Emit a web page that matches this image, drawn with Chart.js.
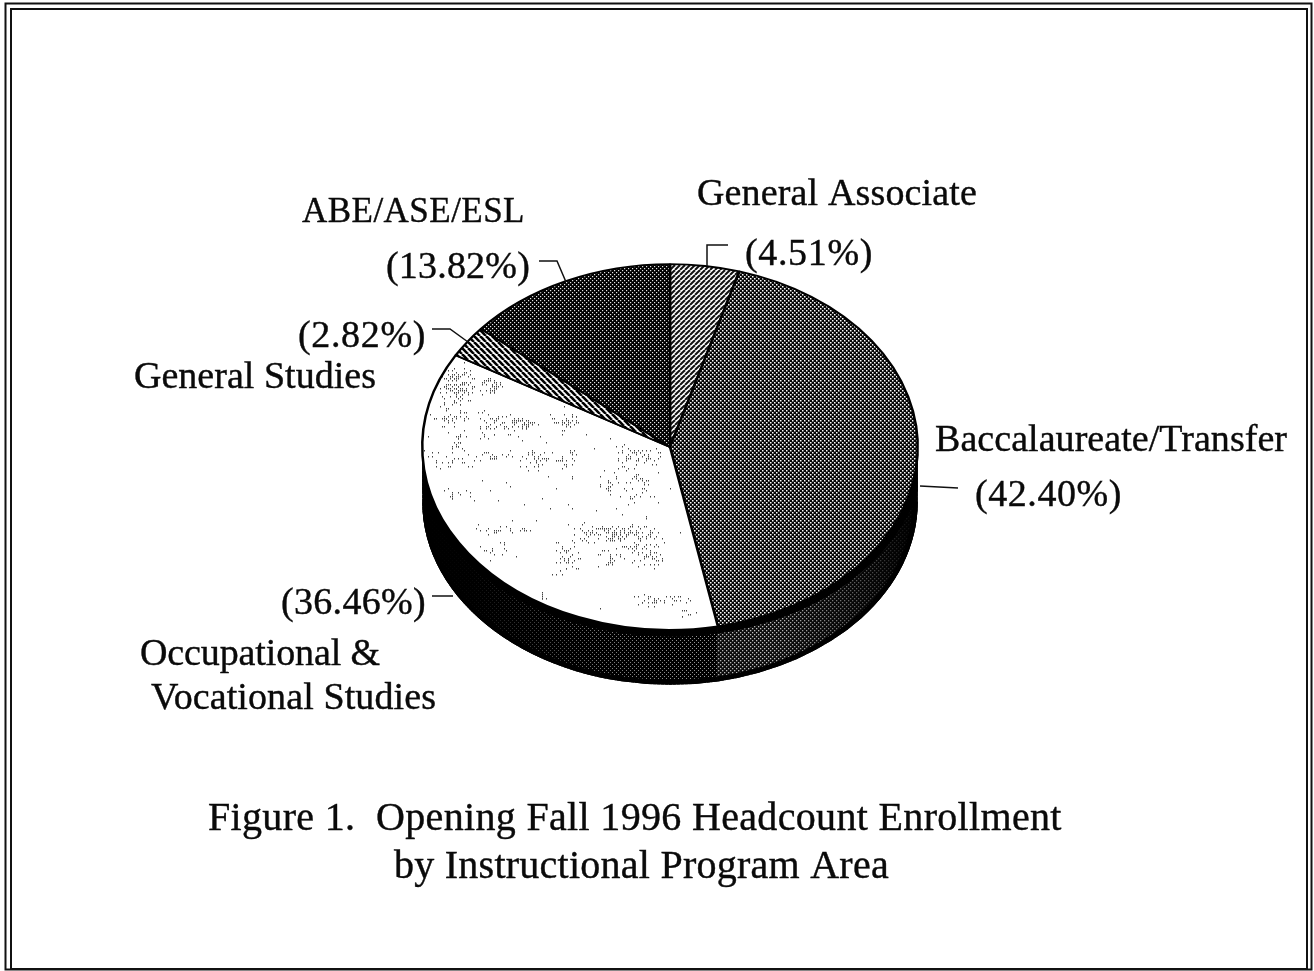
<!DOCTYPE html>
<html>
<head>
<meta charset="utf-8">
<title>Figure 1</title>
<script src="https://cdn.jsdelivr.net/npm/chart.js@4"></script>
<style>
html, body { margin: 0; padding: 0; background: #fff; }
canvas { display: block; }
</style>
</head>
<body>
<canvas id="myChart" width="1314" height="971"></canvas>
<script>
// data, clockwise from 12 o'clock
var categories = ['General Associate', 'Baccalaureate/Transfer', 'Occupational & Vocational Studies', 'General Studies', 'ABE/ASE/ESL'];
var shares = [4.51, 42.40, 36.46, 2.82, 13.82];
var captionLines = ['Figure 1.  Opening Fall 1996 Headcount Enrollment', 'by Instructional Program Area'];

var FONT = '"Liberation Serif", "Times New Roman", serif';
var SQUASH = 0.738;     // pie tilt
var DEPTH = 55;         // height of the side wall
var CENTER_Y = 447;     // where the tilted pie sits on the page
var CHART_Y = 485;      // pie centre inside the chart, from the layout padding

// small tiles for the scanned-looking fills
function tile(w, h, bg, draw) {
    var c = document.createElement('canvas');
    c.width = w; c.height = h;
    var t = c.getContext('2d');
    t.fillStyle = bg;
    t.fillRect(0, 0, w, h);
    draw(t);
    return c;
}
function pattern(c, unsquash) {
    var p = document.createElement('canvas').getContext('2d').createPattern(c, 'repeat');
    // undo the tilt so the tile lands on the page pixel for pixel
    if (unsquash) p.setTransform(new DOMMatrix().scale(1, 1 / SQUASH).translate(0, -(CENTER_Y - SQUASH * CHART_Y)));
    return p;
}
function hatch(size, dir, bg, fg, width) {
    return tile(size, size, bg, function(t) {
        t.strokeStyle = fg;
        t.lineWidth = width;
        for (var i = -size; i <= size; i += size) {
            t.beginPath();
            if (dir > 0) { t.moveTo(i, size); t.lineTo(i + size, 0); }
            else { t.moveTo(i, 0); t.lineTo(i + size, size); }
            t.stroke();
        }
    });
}
function dots(size, bg, fg, r) {
    return tile(size, size, bg, function(t) {
        t.fillStyle = fg;
        t.fillRect(0, 0, r, r);
        t.fillRect(size / 2, size / 2, r, r);
    });
}
// grey speckle on the white slice, patches in page pixels: x, y, spread x, spread y, count
function speckle() {
    var patches = [
        [455, 387, 15, 18, 130], [490, 385, 12, 8, 40], [447, 418, 20, 8, 35], [495, 425, 15, 12, 50],
        [522, 423, 14, 5, 40], [565, 422, 12, 8, 35], [458, 445, 6, 15, 25], [450, 460, 22, 8, 25],
        [490, 455, 15, 4, 18], [533, 460, 18, 10, 35], [563, 460, 10, 10, 20], [637, 457, 18, 10, 60],
        [607, 480, 10, 10, 15], [637, 483, 15, 10, 20], [633, 497, 20, 8, 15], [610, 533, 35, 8, 110],
        [637, 547, 20, 15, 50], [567, 558, 10, 14, 40], [607, 557, 15, 8, 20], [650, 560, 15, 8, 25],
        [493, 550, 12, 10, 15], [490, 530, 15, 4, 15], [520, 530, 10, 3, 8], [673, 600, 25, 6, 25],
        [643, 600, 10, 4, 12], [687, 612, 8, 4, 8], [542, 593, 2, 6, 5], [450, 493, 10, 6, 10],
        [560, 500, 130, 110, 90]
    ];
    return tile(1314, 971, '#fff', function(t) {
        var seed = 7;
        function next() { seed = (seed * 137 + 187) % 1009; return seed / 1009; }
        t.fillStyle = '#444';
        patches.forEach(function(p) {
            for (var i = 0; i < p[4]; i++) {
                var x = p[0] + (next() + next() - 1) * p[2] * 1.4;
                var y = p[1] + (next() + next() - 1) * p[3] * 1.4;
                t.fillRect(Math.round(x / 2) * 2, Math.round(y / 2) * 2, 1, 1.5);
            }
        });
    });
}

var fills = [
    pattern(hatch(5, 1, '#fff', '#111', 2), true),
    pattern(dots(4, '#050505', '#fff', 1.5), true),
    pattern(speckle(), true),
    pattern(hatch(6, -1, '#fff', '#000', 2.6), true),
    pattern(dots(4, '#000', '#e4e4e4', 1.2), true)
];
var wallFills = { 1: pattern(dots(4, '#0c0c0c', '#c4c4c4', 1.3)), 2: pattern(dots(4, '#000', '#aaa', 1)) };

// text: [text, x, baseline, font size, width on the page]
var texts = [
    [categories[4], 302, 222, 35, 223],
    [categories[0], 697, 205, 38, 280],
    ['(' + shares[0].toFixed(2) + '%)', 745, 265, 38, 128],
    ['(' + shares[4].toFixed(2) + '%)', 386, 278, 38, 144],
    ['(' + shares[3].toFixed(2) + '%)', 298, 347, 38, 128],
    [categories[3], 134, 388, 38, 242],
    [categories[1], 935, 451, 38, 352],
    ['(' + shares[1].toFixed(2) + '%)', 975, 506, 38, 147],
    ['(' + shares[2].toFixed(2) + '%)', 281, 614, 38, 145],
    ['Occupational &', 140, 665, 38, 240],
    ['Vocational Studies', 151, 709, 38, 285],
    [captionLines[0], 208, 830, 40, 854],
    [captionLines[1], 394, 878, 40, 495]
];
var leaders = [
    [[707, 266], [707, 245], [728, 245]],
    [[539, 261], [557, 261], [566, 282]],
    [[432, 329], [450, 329], [468, 342]],
    [[920, 486], [958, 488]],
    [[432, 596], [453, 596]]
];

var tiltPlugin = {
    id: 'tilt',
    beforeDatasetsDraw: function(chart) {
        var ctx = chart.ctx;
        var arcs = chart.getDatasetMeta(0).data;
        var a0 = arcs[0];
        var r0 = a0.outerRadius, ry0 = r0 * SQUASH;

        // side wall, only the front half of the rim shows
        arcs.forEach(function(arc, i) {
            var from = Math.max(arc.startAngle, 0);
            var to = Math.min(arc.endAngle, Math.PI);
            if (to <= from || !wallFills[i]) return;
            ctx.save();
            ctx.beginPath();
            ctx.ellipse(arc.x, CENTER_Y, r0, ry0, 0, from, to);
            ctx.ellipse(arc.x, CENTER_Y + DEPTH, r0, ry0, 0, to, from, true);
            ctx.closePath();
            ctx.fillStyle = wallFills[i];
            ctx.fill();
            ctx.clip();
            // wall goes solid black towards both sides
            var g = ctx.createLinearGradient(a0.x - r0, 0, a0.x + r0, 0);
            g.addColorStop(0, 'rgba(0,0,0,1)');
            g.addColorStop(0.1, 'rgba(0,0,0,0.95)');
            g.addColorStop(0.35, 'rgba(0,0,0,0.3)');
            g.addColorStop(0.7, 'rgba(0,0,0,0)');
            g.addColorStop(0.9, 'rgba(0,0,0,0.6)');
            g.addColorStop(1, 'rgba(0,0,0,1)');
            ctx.fillStyle = g;
            ctx.fillRect(0, 0, chart.width, chart.height);
            // black bands along both rims
            ctx.strokeStyle = '#000';
            ctx.lineWidth = 14;
            ctx.beginPath();
            ctx.ellipse(a0.x, CENTER_Y, r0, ry0, 0, 0, Math.PI);
            ctx.stroke();
            ctx.lineWidth = 10;
            ctx.beginPath();
            ctx.ellipse(a0.x, CENTER_Y + DEPTH, r0, ry0, 0, 0, Math.PI);
            ctx.stroke();
            ctx.restore();
        });

        // squash the circle the library draws into the top face
        ctx.save();
        ctx.translate(0, CENTER_Y);
        ctx.scale(1, SQUASH);
        ctx.translate(0, -a0.y);
    },
    afterDatasetsDraw: function(chart) {
        chart.ctx.restore();
    },
    afterDraw: function(chart) {
        var ctx = chart.ctx;
        ctx.save();
        // double frame
        ctx.strokeStyle = '#111';
        ctx.lineWidth = 2;
        ctx.strokeRect(5.5, 3.5, 1306, 966);
        ctx.strokeRect(11, 9, 1296, 960);

        ctx.lineWidth = 1.5;
        leaders.forEach(function(l) {
            ctx.beginPath();
            l.forEach(function(p, i) { if (i) ctx.lineTo(p[0], p[1]); else ctx.moveTo(p[0], p[1]); });
            ctx.stroke();
        });

        ctx.fillStyle = '#0a0a0a';
        ctx.strokeStyle = '#0a0a0a';
        ctx.lineWidth = 0.4;
        ctx.textAlign = 'left';
        ctx.textBaseline = 'alphabetic';
        texts.forEach(function(t) {
            ctx.font = t[3] + 'px ' + FONT;
            ctx.letterSpacing = '0px';
            // stretch to the width the scan has
            var extra = (t[4] - ctx.measureText(t[0]).width) / t[0].length;
            ctx.letterSpacing = extra.toFixed(2) + 'px';
            ctx.fillText(t[0], t[1], t[2]);
            ctx.strokeText(t[0], t[1], t[2]);
        });
        ctx.restore();
    }
};

var ctx = document.getElementById('myChart').getContext('2d');
var myChart = new Chart(ctx, {
    type: 'pie',
    data: {
        labels: categories,
        datasets: [{
            data: shares,
            backgroundColor: fills,
            borderColor: '#000',
            borderWidth: 2.5,
            hoverOffset: 0
        }]
    },
    options: {
        responsive: false,
        animation: false,
        events: [],
        layout: { padding: { left: 421, right: 395, top: 236, bottom: 237 } },
        plugins: { legend: { display: false }, title: { display: false }, tooltip: { enabled: false } }
    },
    plugins: [tiltPlugin]
});
</script>
</body>
</html>
